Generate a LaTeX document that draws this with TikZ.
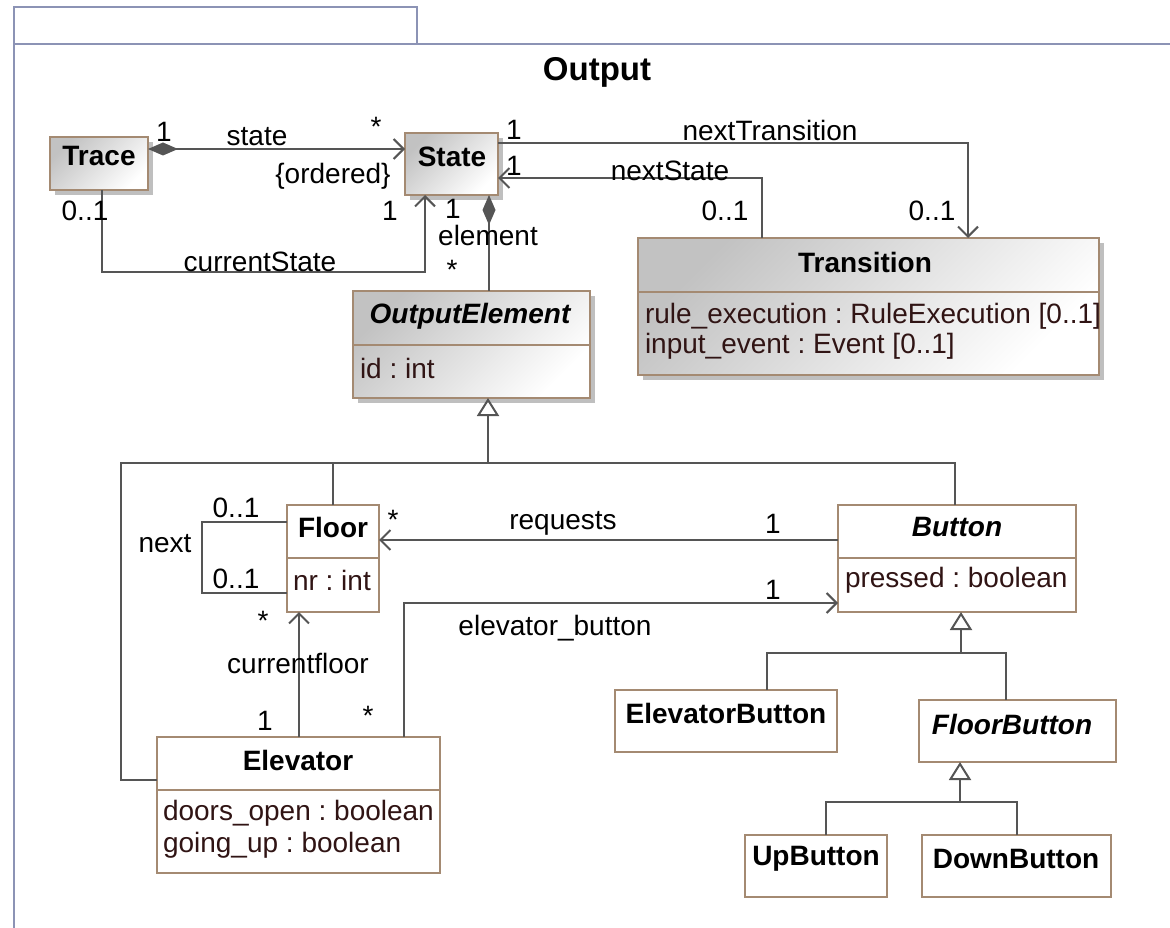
\documentclass[tikz,border=0pt]{standalone}
\usepackage{fontspec}
\setmainfont{Liberation Sans}
\usetikzlibrary{arrows.meta,shadows}
\definecolor{boxedge}{HTML}{A48A72}
\definecolor{wire}{HTML}{555555}
\definecolor{framecol}{HTML}{8C93B5}
\definecolor{attrcol}{HTML}{301414}
\frenchspacing
\begin{document}
\begin{tikzpicture}[x=1pt,y=-1pt,
  every node/.style={font=\fontsize{28}{33}\selectfont, inner sep=0pt, outer sep=0pt},
  sz/.style 2 args={minimum width=#1pt, minimum height=#2pt},
  cls/.style={draw=boxedge, line width=2pt, fill=white, anchor=north west},
  shcls/.style={cls, top color=black!24, bottom color=white, shading angle=45,
    drop shadow={shadow xshift=5pt, shadow yshift=-5pt, fill=black!25, opacity=1}},
  cname/.style={font=\fontsize{28}{33}\selectfont\bfseries},
  aname/.style={font=\fontsize{28}{33}\selectfont\bfseries\itshape},
  attr/.style={anchor=west, text=attrcol},
  sep/.style={draw=boxedge, line width=2pt},
  wireline/.style={draw=wire, line width=2pt},
  nav/.style={wireline, -{Straight Barb[length=10pt,width=20pt]}},
  compo/.style={wireline, {Diamond[length=30pt,width=13pt]}-},
  compnav/.style={wireline, {Diamond[length=30pt,width=13pt]}-{Straight Barb[length=10pt,width=20pt]}},
  gen/.style={wireline, -{Triangle[open,length=18pt,width=22pt]}},
  frameline/.style={draw=framecol, line width=2pt}
]
\useasboundingbox (0,0) rectangle (1170,928);

% package frame with its name tab
\draw[frameline] (14,7) rectangle (417,44);
\draw[frameline] (14,928) -- (14,44) -- (1172,44);
\node[font=\fontsize{33}{38}\selectfont\bfseries] (title) at (597,72) {Output};

% classes
\node[shcls, sz={98}{53}] (trace) at (50,137) {};
\node[cname] (traceT) at (99,156) {Trace};

\node[shcls, sz={93}{62}] (state) at (405,133) {};
\node[cname] (stateT) at (452,157) {State};

\node[shcls, sz={461}{137}] (transition) at (638,238) {};
\draw[sep] (transition.west |- 0,292) -- (transition.east |- 0,292);
\node[cname] (transitionT) at (865,262) {Transition};
\node[attr] (transA1) at (645,316) {rule\_execution : RuleExecution [0..1]};
\node[attr] (transA2) at (645,346) {input\_event : Event [0..1]};

\node[shcls, sz={237}{107}] (oe) at (353,291) {};
\draw[sep] (oe.west |- 0,345) -- (oe.east |- 0,345);
\node[aname] (oeT) at (470,316) {OutputElement};
\node[attr] (oeA1) at (360,368) {id : int};

\node[cls, sz={92}{107}] (floor) at (287,505) {};
\draw[sep] (floor.west |- 0,558) -- (floor.east |- 0,558);
\node[cname] (floorT) at (333,527) {Floor};
\node[attr] (floorA1) at (293,580) {nr : int};

\node[cls, sz={238}{107}] (button) at (838,505) {};
\draw[sep] (button.west |- 0,558) -- (button.east |- 0,558);
\node[aname] (buttonT) at (957,527) {Button};
\node[attr] (buttonA1) at (845,580) {pressed : boolean};

\node[cls, sz={283}{136}] (elevator) at (157,737) {};
\draw[sep] (elevator.west |- 0,790) -- (elevator.east |- 0,790);
\node[cname] (elevatorT) at (298,760) {Elevator};
\node[attr] (elevA1) at (163,813) {doors\_open : boolean};
\node[attr] (elevA2) at (163,845) {going\_up : boolean};

\node[cls, sz={222}{62}] (elevbtn) at (615,690) {};
\node[cname] (elevbtnT) at (726,713) {ElevatorButton};

\node[cls, sz={197}{62}] (floorbtn) at (919,700) {};
\node[aname] (floorbtnT) at (1012,724) {FloorButton};

\node[cls, sz={142}{62}] (upbtn) at (745,835) {};
\node[cname] (upbtnT) at (816,859) {UpButton};

\node[cls, sz={189}{62}] (downbtn) at (922,835) {};
\node[cname] (downbtnT) at (1016,859) {DownButton};

% Trace -- State
\draw[compnav] (trace.east |- 0,149) -- (state.west |- 0,149);
\node (m1) at (164,132) {1};
\node (lstate) at (257,137) {state};
\node (m2) at (376,127) {*};
\node (lordered) at (333,176) {\{ordered\}};

\draw[nav] (trace.south -| 102,0) -- (102,272) -| (state.south -| 425,0);
\node (m3) at (85,211) {0..1};
\node (m4) at (390,211) {1};
\node (lcur) at (260,262) {currentState};

% State -- OutputElement
\draw[compo] (state.south -| 489,0) -- (oe.north -| 489,0);
\node (m5) at (453,209) {1};
\node (lelem) at (488,235) {element};
\node (m6) at (452,270) {*};

% State -- Transition
\draw[nav] (state.east |- 0,143) -| (transition.north -| 968,0);
\node (m7) at (514,130) {1};
\node (lnt) at (770,130) {nextTransition};
\node (m8) at (932,211) {0..1};

\draw[nav] (transition.north -| 762,0) |- (state.east |- 0,178);
\node (m9) at (514,166) {1};
\node (lns) at (670,171) {nextState};
\node (m10) at (725,211) {0..1};

% specializations of OutputElement
\coordinate (j1) at (488,463);
\draw[gen] (j1) -- (oe.south -| j1);
\draw[wireline] (elevator.west |- 0,780) -- (121,780) |- (j1);
\draw[wireline] (floor.north) |- (j1);
\draw[wireline] (button.north -| 955,0) |- (j1);

% Floor self association
\draw[wireline] (floor.west |- 0,522) -- (202,522) |- (floor.west |- 0,593);
\node (m11) at (236,508) {0..1};
\node (m12) at (236,579) {0..1};
\node (lnext) at (165,544) {next};

% Button -- Floor
\draw[nav] (button.west |- 0,540) -- (floor.east |- 0,540);
\node (m13) at (393,520) {*};
\node (lreq) at (563,523) {requests};
\node (m14) at (773,524) {1};

% Elevator -- Button
\draw[nav] (elevator.north -| 404,0) |- (button.west |- 0,603);
\node (m15) at (773,590) {1};
\node (leb) at (555,628) {elevator\_button};
\node (m16) at (368,716) {*};

% Elevator -- Floor
\draw[nav] (elevator.north -| 299,0) -- (floor.south -| 299,0);
\node (m17) at (263,621) {*};
\node (lcf) at (298,663) {currentfloor};
\node (m18) at (265,721) {1};

% specializations of Button
\coordinate (j2) at (961,653);
\draw[gen] (j2) -- (button.south -| j2);
\draw[wireline] (elevbtn.north -| 767,0) |- (j2);
\draw[wireline] (floorbtn.north -| 1006,0) |- (j2);

% specializations of FloorButton
\coordinate (j3) at (960,802);
\draw[gen] (j3) -- (floorbtn.south -| j3);
\draw[wireline] (upbtn.north -| 826,0) |- (j3);
\draw[wireline] (downbtn.north) |- (j3);
\end{tikzpicture}
\end{document}
